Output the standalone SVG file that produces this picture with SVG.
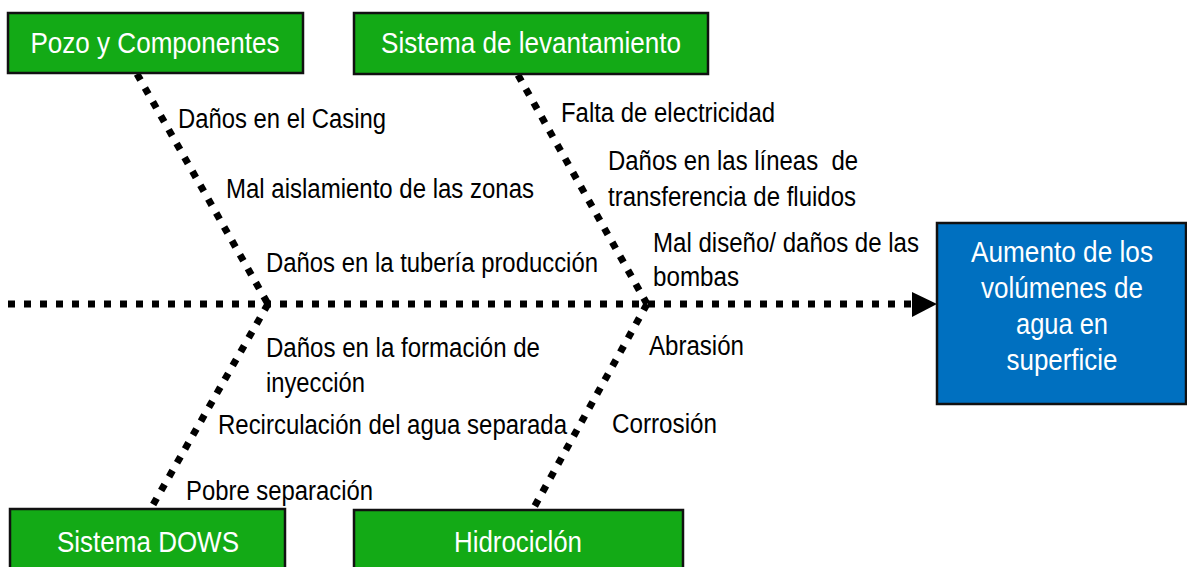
<svg xmlns="http://www.w3.org/2000/svg" width="1187" height="567" viewBox="0 0 1187 567">
<style>
.box{fill:#13AA16;stroke:#111;stroke-width:2.5}
.blue{fill:#0070C0;stroke:#111;stroke-width:2.5}
.bt{font-family:"Liberation Sans",Arial,sans-serif;font-size:29px;fill:#fff}
.lb{font-family:"Liberation Sans",Arial,sans-serif;font-size:27px;fill:#000}
.dot{stroke:#000;stroke-width:7;stroke-dasharray:7 9;fill:none}
</style>
<rect width="1187" height="567" fill="#fff"/>
<g id="connectors">
<line class="dot" x1="8" y1="304" x2="912" y2="304"/>
<polygon points="912,292 937,304 912,317" fill="#000"/>
<line class="dot" x1="137" y1="74" x2="268" y2="304"/>
<line class="dot" x1="268" y1="304" x2="150" y2="510"/>
<line class="dot" x1="518" y1="75" x2="647" y2="304"/>
<line class="dot" x1="647" y1="304" x2="532" y2="511"/>
</g>
<g id="pozo">
<rect class="box" x="8" y="13" width="295" height="60"/>
<text class="bt" x="155" y="53" text-anchor="middle" textLength="249" lengthAdjust="spacingAndGlyphs">Pozo y Componentes</text>
</g>
<g id="levantamiento">
<rect class="box" x="354" y="13" width="354" height="61"/>
<text class="bt" x="531" y="53" text-anchor="middle" textLength="300" lengthAdjust="spacingAndGlyphs">Sistema de levantamiento</text>
</g>
<g id="dows">
<rect class="box" x="10" y="509" width="275" height="70"/>
<text class="bt" x="148" y="552" text-anchor="middle" textLength="182" lengthAdjust="spacingAndGlyphs">Sistema DOWS</text>
</g>
<g id="hidrociclon">
<rect class="box" x="354" y="510" width="329" height="70"/>
<text class="bt" x="518" y="552" text-anchor="middle" textLength="128" lengthAdjust="spacingAndGlyphs">Hidrociclón</text>
</g>
<g id="efecto">
<rect class="blue" x="937" y="223" width="249" height="181"/>
<text class="bt" x="1062" y="262" text-anchor="middle" textLength="182" lengthAdjust="spacingAndGlyphs">Aumento de los</text>
<text class="bt" x="1062" y="298" text-anchor="middle" textLength="162" lengthAdjust="spacingAndGlyphs">volúmenes de</text>
<text class="bt" x="1062" y="334" text-anchor="middle" textLength="92" lengthAdjust="spacingAndGlyphs">agua en</text>
<text class="bt" x="1062" y="370" text-anchor="middle" textLength="111" lengthAdjust="spacingAndGlyphs">superficie</text>
</g>
<g id="labels">
<text class="lb" x="178" y="128" textLength="208" lengthAdjust="spacingAndGlyphs">Daños en el Casing</text>
<text class="lb" x="226" y="198" textLength="308" lengthAdjust="spacingAndGlyphs">Mal aislamiento de las zonas</text>
<text class="lb" x="266" y="272" textLength="332" lengthAdjust="spacingAndGlyphs">Daños en la tubería producción</text>
<text class="lb" x="561" y="122" textLength="214" lengthAdjust="spacingAndGlyphs">Falta de electricidad</text>
<text class="lb" x="608" y="170" xml:space="preserve" textLength="250" lengthAdjust="spacingAndGlyphs">Daños en las líneas  de</text>
<text class="lb" x="608" y="206" textLength="248" lengthAdjust="spacingAndGlyphs">transferencia de fluidos</text>
<text class="lb" x="653" y="252" textLength="266" lengthAdjust="spacingAndGlyphs">Mal diseño/ daños de las</text>
<text class="lb" x="653" y="286" textLength="86" lengthAdjust="spacingAndGlyphs">bombas</text>
<text class="lb" x="266" y="357" textLength="274" lengthAdjust="spacingAndGlyphs">Daños en la formación de</text>
<text class="lb" x="266" y="392" textLength="99" lengthAdjust="spacingAndGlyphs">inyección</text>
<text class="lb" x="218" y="434" textLength="349" lengthAdjust="spacingAndGlyphs">Recirculación del agua separada</text>
<text class="lb" x="186" y="500" textLength="187" lengthAdjust="spacingAndGlyphs">Pobre separación</text>
<text class="lb" x="649" y="355" textLength="95" lengthAdjust="spacingAndGlyphs">Abrasión</text>
<text class="lb" x="612" y="433" textLength="105" lengthAdjust="spacingAndGlyphs">Corrosión</text>
</g>
</svg>
